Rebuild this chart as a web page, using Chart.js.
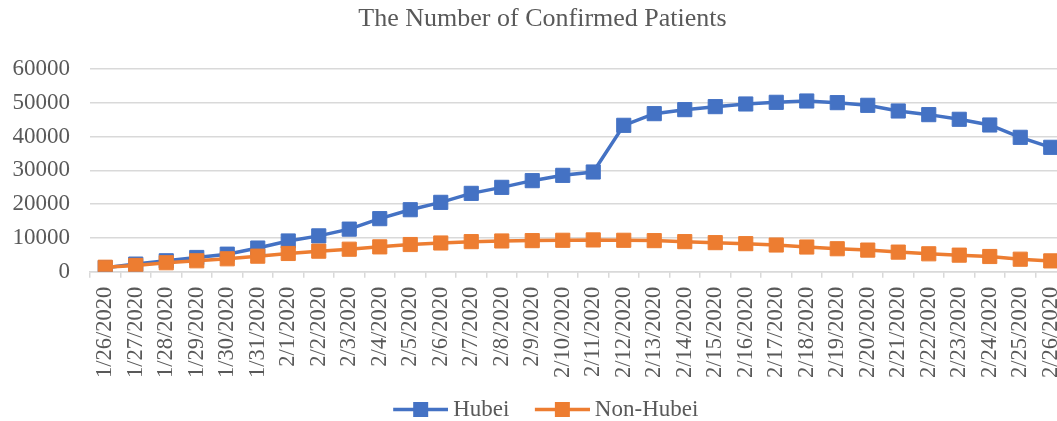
<!DOCTYPE html>
<html>
<head>
<meta charset="utf-8">
<title>The Number of Confirmed Patients</title>
<script src="https://cdn.jsdelivr.net/npm/chart.js@4.4.1/dist/chart.umd.min.js"></script>
<style>
    html, body { margin: 0; padding: 0; background: #fff; overflow: hidden; }
    #chart { display: block; }
</style>
</head>
<body>
<canvas id="chart" width="1057" height="421"></canvas>
<script>
// Data
const dates = [
    '1/26/2020', '1/27/2020', '1/28/2020', '1/29/2020', '1/30/2020', '1/31/2020',
    '2/1/2020', '2/2/2020', '2/3/2020', '2/4/2020', '2/5/2020', '2/6/2020',
    '2/7/2020', '2/8/2020', '2/9/2020', '2/10/2020', '2/11/2020', '2/12/2020',
    '2/13/2020', '2/14/2020', '2/15/2020', '2/16/2020', '2/17/2020', '2/18/2020',
    '2/19/2020', '2/20/2020', '2/21/2020', '2/22/2020', '2/23/2020', '2/24/2020',
    '2/25/2020', '2/26/2020'
];
const hubei = [
    1180, 2250, 3230, 4210, 5190, 7000, 9100, 10600, 12600, 15700, 18350, 20530,
    23190, 24970, 26950, 28520, 29510, 43330, 46780, 47970, 48860, 49650, 50140, 50530,
    50040, 49250, 47570, 46490, 45110, 43430, 39780, 36820
];
const nonHubei = [
    1320, 1860, 2650, 3230, 3820, 4600, 5390, 6080, 6660, 7350, 8040, 8500,
    8900, 9100, 9200, 9300, 9400, 9300, 9200, 8900, 8600, 8300, 7900, 7300,
    6800, 6400, 5800, 5300, 4900, 4500, 3700, 3200
];
const yTicks = [0, 10000, 20000, 30000, 40000, 50000, 60000];

const BLUE = '#4472C4';
const ORANGE = '#ED7D31';
const TEXT = '#595959';
const GRID = '#D9D9D9';

// the source picture is cropped: the plot runs a little past the right edge
const PLOT_RIGHT = 1066;

Chart.defaults.font.family = "'Liberation Serif', 'Times New Roman', serif";
Chart.defaults.color = TEXT;

// Legend icon: a short line with a square marker, like Excel
function legendIcon(color) {
    const c = document.createElement('canvas');
    c.width = 68;
    c.height = 21;
    const g = c.getContext('2d');
    g.strokeStyle = color;
    g.lineWidth = 3.5;
    g.beginPath();
    g.moveTo(13, 10.5);
    g.lineTo(68, 10.5);
    g.stroke();
    g.fillStyle = color;
    g.fillRect(33, 3, 15, 15);
    return c;
}

function series(label, values, color, order) {
    return {
        label: label,
        data: values,
        borderColor: color,
        backgroundColor: color,
        borderWidth: 3.5,
        pointStyle: 'rect',
        pointRadius: 10,
        pointBorderWidth: 1,
        pointBackgroundColor: color,
        pointBorderColor: color,
        tension: 0,
        order: order
    };
}

// nudge title/legend and stretch the x axis past the canvas edge
const excelLayout = {
    id: 'excelLayout',
    afterLayout(chart) {
        chart.titleBlock.left = 28;
        chart.legend.left = 28;
        chart.legend.top += 10;
        chart.legend.bottom += 10;

        const x = chart.scales.x;
        chart.chartArea.right = PLOT_RIGHT;
        chart.chartArea.width = PLOT_RIGHT - chart.chartArea.left;
        x.right = PLOT_RIGHT;
        x.width = PLOT_RIGHT - x.left;
        // let the rotated date labels hang down to the legend
        x.bottom = x.top + 120;
        x.height = 120;
        x.configure();
    }
};

new Chart(document.getElementById('chart'), {
    type: 'line',
    data: {
        labels: dates,
        datasets: [
            series('Hubei', hubei, BLUE, 2),
            series('Non-Hubei', nonHubei, ORANGE, 1)
        ]
    },
    plugins: [excelLayout],
    options: {
        responsive: false,
        animation: false,
        layout: { padding: 0 },
        plugins: {
            title: {
                display: true,
                text: 'The Number of Confirmed Patients',
                color: TEXT,
                font: { size: 26, weight: 'normal' },
                padding: { top: 4, bottom: 33.8 }
            },
            legend: {
                position: 'bottom',
                labels: {
                    usePointStyle: true,
                    pointStyleWidth: 55,
                    padding: 19,
                    color: TEXT,
                    font: { size: 23 },
                    generateLabels: function (chart) {
                        return chart.data.datasets.map((ds, i) => ({
                            text: ds.label,
                            fillStyle: ds.borderColor,
                            strokeStyle: ds.borderColor,
                            fontColor: TEXT,
                            lineWidth: 0,
                            pointStyle: legendIcon(ds.borderColor),
                            hidden: !chart.isDatasetVisible(i),
                            datasetIndex: i
                        }));
                    }
                }
            },
            tooltip: { enabled: false }
        },
        scales: {
            x: {
                offset: true,
                grid: {
                    offset: true,
                    drawOnChartArea: false,
                    drawTicks: true,
                    tickLength: 6,
                    color: GRID,
                    lineWidth: 1.5
                },
                border: { color: GRID, width: 1.5 },
                ticks: {
                    autoSkip: false,
                    minRotation: 90,
                    maxRotation: 90,
                    padding: 9,
                    color: TEXT,
                    font: { size: 22.5 }
                },
                afterFit: function (scale) {
                    scale.height = 97.3;
                    scale.paddingLeft = 0;
                    scale.paddingRight = 0;
                }
            },
            y: {
                min: yTicks[0],
                max: yTicks[yTicks.length - 1],
                ticks: {
                    stepSize: yTicks[1] - yTicks[0],
                    padding: 20,
                    color: TEXT,
                    font: { size: 23 },
                    callback: v => String(v)
                },
                grid: { color: GRID, lineWidth: 1.5, drawTicks: false },
                border: { display: false },
                afterFit: function (scale) {
                    scale.width = 90;
                }
            }
        }
    }
});
</script>
</body>
</html>
